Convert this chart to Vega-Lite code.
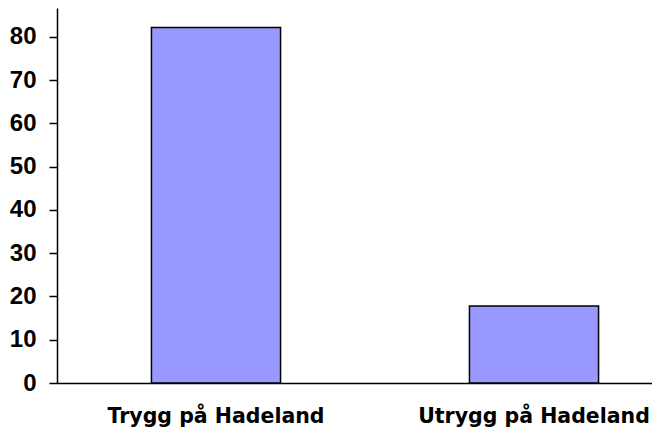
{
  "$schema": "https://vega.github.io/schema/vega-lite/v6.json",
  "width": 636,
  "height": 375,
  "autosize": {"type": "none"},
  "padding": {"left": 57, "top": 8, "right": 0, "bottom": 51},
  "background": "#ffffff",
  "config": {"view": {"stroke": null}},
  "data": {"values": [
    {"kategori": "Trygg på Hadeland", "prosent": 82.2},
    {"kategori": "Utrygg på Hadeland", "prosent": 17.8}
  ]},
  "mark": {"type": "bar", "fill": "#9999FF", "stroke": "#000000", "strokeWidth": 1.5},
  "encoding": {
    "x": {
      "field": "kategori", "type": "nominal", "sort": null,
      "scale": {"paddingInner": 0.594, "paddingOuter": 0.297},
      "axis": {
        "title": null, "labelAngle": 0, "ticks": false, "labelLimit": 0,
        "domainColor": "#000000", "domainWidth": 1.5,
        "labelFont": "DejaVu Sans", "labelFontWeight": "bold", "labelFontSize": 20.5,
        "labelColor": "#000000", "labelPadding": 23
      }
    },
    "y": {
      "field": "prosent", "type": "quantitative",
      "scale": {"domain": [0, 86.7], "nice": false},
      "axis": {
        "title": null, "values": [0, 10, 20, 30, 40, 50, 60, 70, 80], "grid": false,
        "domainColor": "#000000", "domainWidth": 1.5,
        "tickColor": "#000000", "tickSize": 8, "tickWidth": 1.5,
        "labelFont": "Liberation Sans", "labelFontWeight": "bold", "labelFontSize": 24,
        "labelColor": "#000000", "labelPadding": 13
      }
    }
  }
}
